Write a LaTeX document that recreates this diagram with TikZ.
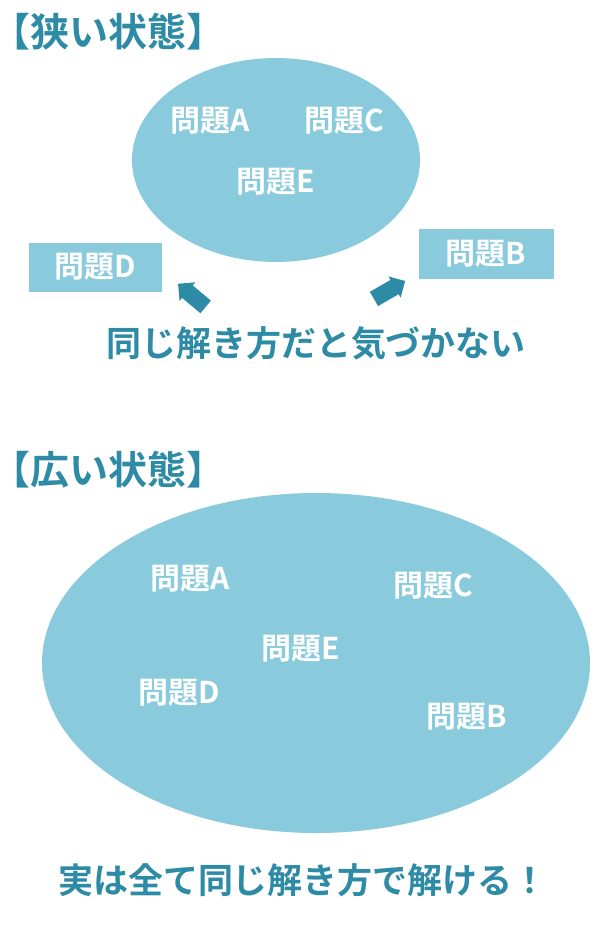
\documentclass[tikz,border=0pt]{standalone}
\usepackage{fontspec}
\setmainfont{Noto Sans CJK JP}[BoldFont={Noto Sans CJK JP Bold}]
\usetikzlibrary{shapes.arrows}
\definecolor{pale}{HTML}{89CBDC}
\definecolor{teal}{HTML}{2E8BA6}

\begin{document}
\begin{tikzpicture}
		[
		x=1pt, y=-1pt, font=\bfseries,
		label/.style={text=white, font=\fontsize{30}{30}\selectfont\bfseries},
		head/.style={text=teal, font=\fontsize{39}{39}\selectfont\bfseries, anchor=west, inner sep=0pt},
		note/.style={text=teal, font=\fontsize{35}{35}\selectfont\bfseries},
		blob/.style={fill=pale, draw=none},
		pointer/.style={single arrow, fill=teal, draw=none, inner sep=8pt, single arrow head extend=4pt, minimum height=36pt}
		]
		\useasboundingbox (0,0) rectangle (600,932);
		
		%oben: enger Zustand
		\node[head] (t1) at (-9,32) {【狭い状態】};
		\fill[blob] (276,160) ellipse [x radius=144, y radius=102];
		\node[label] (a1) at (210,121) {問題A};
		\node[label] (c1) at (344,121) {問題C};
		\node[label] (e1) at (276,182) {問題E};
		\node[blob, minimum width=133pt, minimum height=49pt, label] (d1) at (95,267) {問題D};
		\node[blob, minimum width=135pt, minimum height=50pt, label] (b1) at (486,254) {問題B};
		\node[pointer, rotate=140] (p1) at (195,298) {};
		\node[pointer, rotate=30] (p2) at (386,292) {};
		\node[note] (n1) at (316,343) {同じ解き方だと気づかない};
		
		%unten: weiter Zustand
		\node[head] (t2) at (-9,470) {【広い状態】};
		\fill[blob] (316,663) ellipse [x radius=274, y radius=170];
		\node[label] (a2) at (190,579) {問題A};
		\node[label] (c2) at (433,586) {問題C};
		\node[label] (e2) at (301,649) {問題E};
		\node[label] (d2) at (179,693) {問題D};
		\node[label] (b2) at (467,717) {問題B};
		\node[note] (n2) at (303,880) {実は全て同じ解き方で解ける！};
\end{tikzpicture}
\end{document}
